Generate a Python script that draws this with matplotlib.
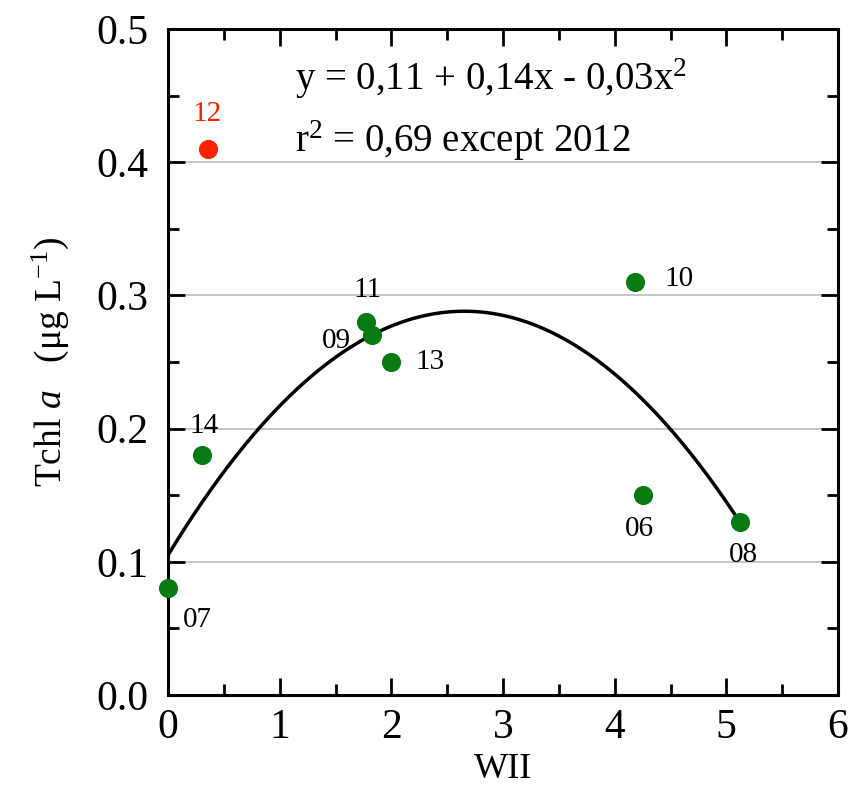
import numpy as np
import matplotlib
matplotlib.use("Agg")
import matplotlib.pyplot as plt
from matplotlib.ticker import MultipleLocator

plt.rcParams['font.family'] = ['Liberation Serif', 'DejaVu Serif']
plt.rcParams['mathtext.fontset'] = 'custom'
plt.rcParams['mathtext.rm'] = 'Liberation Serif'
plt.rcParams['mathtext.it'] = 'Liberation Serif:italic'

# data
years = ["07", "14", "11", "09", "13", "10", "06", "08"]
wii = [0.0, 0.30, 1.77, 1.83, 2.00, 4.18, 4.25, 5.12]
tchl = [0.08, 0.18, 0.28, 0.27, 0.25, 0.31, 0.15, 0.13]
out_year = "12"
out_wii = 0.36
out_tchl = 0.41
# fitted curve coefficients (as drawn)
fit_a, fit_b, fit_c = 0.105, 0.138, -0.026
fit_xmax = 5.12

# label offsets in points
offsets = {"07": (21, -23), "14": (2, 21), "11": (1, 23), "09": (-26, -4),
           "13": (28, 0), "10": (32, 2), "06": (-2, -24), "08": (3, -24)}

fig = plt.figure(figsize=(8.58, 7.88), dpi=100)
ax = fig.add_axes([168/858, 1-695/788, 670/858, 666/788])

for yv in [0.1, 0.2, 0.3, 0.4]:
    ax.axhline(yv, color='#c0c0c0', lw=1.3, zorder=0)

xs = np.linspace(0, fit_xmax, 200)
ax.plot(xs, fit_a + fit_b*xs + fit_c*xs**2, color='black', lw=2.5, zorder=2)

ax.scatter(wii, tchl, s=190, color='#087a12', zorder=3, clip_on=False, linewidths=0)
ax.scatter([out_wii], [out_tchl], s=190, color='#ff2200', zorder=3, linewidths=0)

for yr, x, y in zip(years, wii, tchl):
    dx, dy = offsets[yr]
    ax.annotate(yr, (x, y), xytext=(dx, dy), textcoords='offset points',
                ha='center', va='center', fontsize=21, color='black')
ax.annotate(out_year, (out_wii, out_tchl), xytext=(-1, 25), textcoords='offset points',
            ha='center', va='center', fontsize=21, color='#ff2200')

ax.text(0.19, 0.925, r"y = 0,11 + 0,14x - 0,03x$^{2}$", transform=ax.transAxes,
        fontsize=28, ha='left', va='center')
ax.text(0.19, 0.832, r"r$^{2}$ = 0,69 except 2012", transform=ax.transAxes,
        fontsize=28, ha='left', va='center')

ax.set_xlim(0, 6)
ax.set_ylim(0, 0.5)
ax.xaxis.set_major_locator(MultipleLocator(1))
ax.xaxis.set_minor_locator(MultipleLocator(0.5))
ax.yaxis.set_major_locator(MultipleLocator(0.1))
ax.yaxis.set_minor_locator(MultipleLocator(0.05))
ax.yaxis.set_major_formatter(matplotlib.ticker.FormatStrFormatter('%.1f'))
ax.tick_params(which='both', direction='in', top=True, right=True, width=2, labelsize=30, color='black')
ax.tick_params(which='major', length=12, pad=10)
ax.tick_params(axis='y', which='major', pad=14)
ax.tick_params(which='minor', length=8)
for s in ax.spines.values():
    s.set_linewidth(2.2)

ax.set_xlabel("WII", fontsize=26, labelpad=4)
ax.set_ylabel(r"Tchl $\mathit{a}$   ($\mathrm{\mu}$g L$^{-1}$)", fontsize=27, labelpad=18)

fig.savefig("out.png", dpi=100)
